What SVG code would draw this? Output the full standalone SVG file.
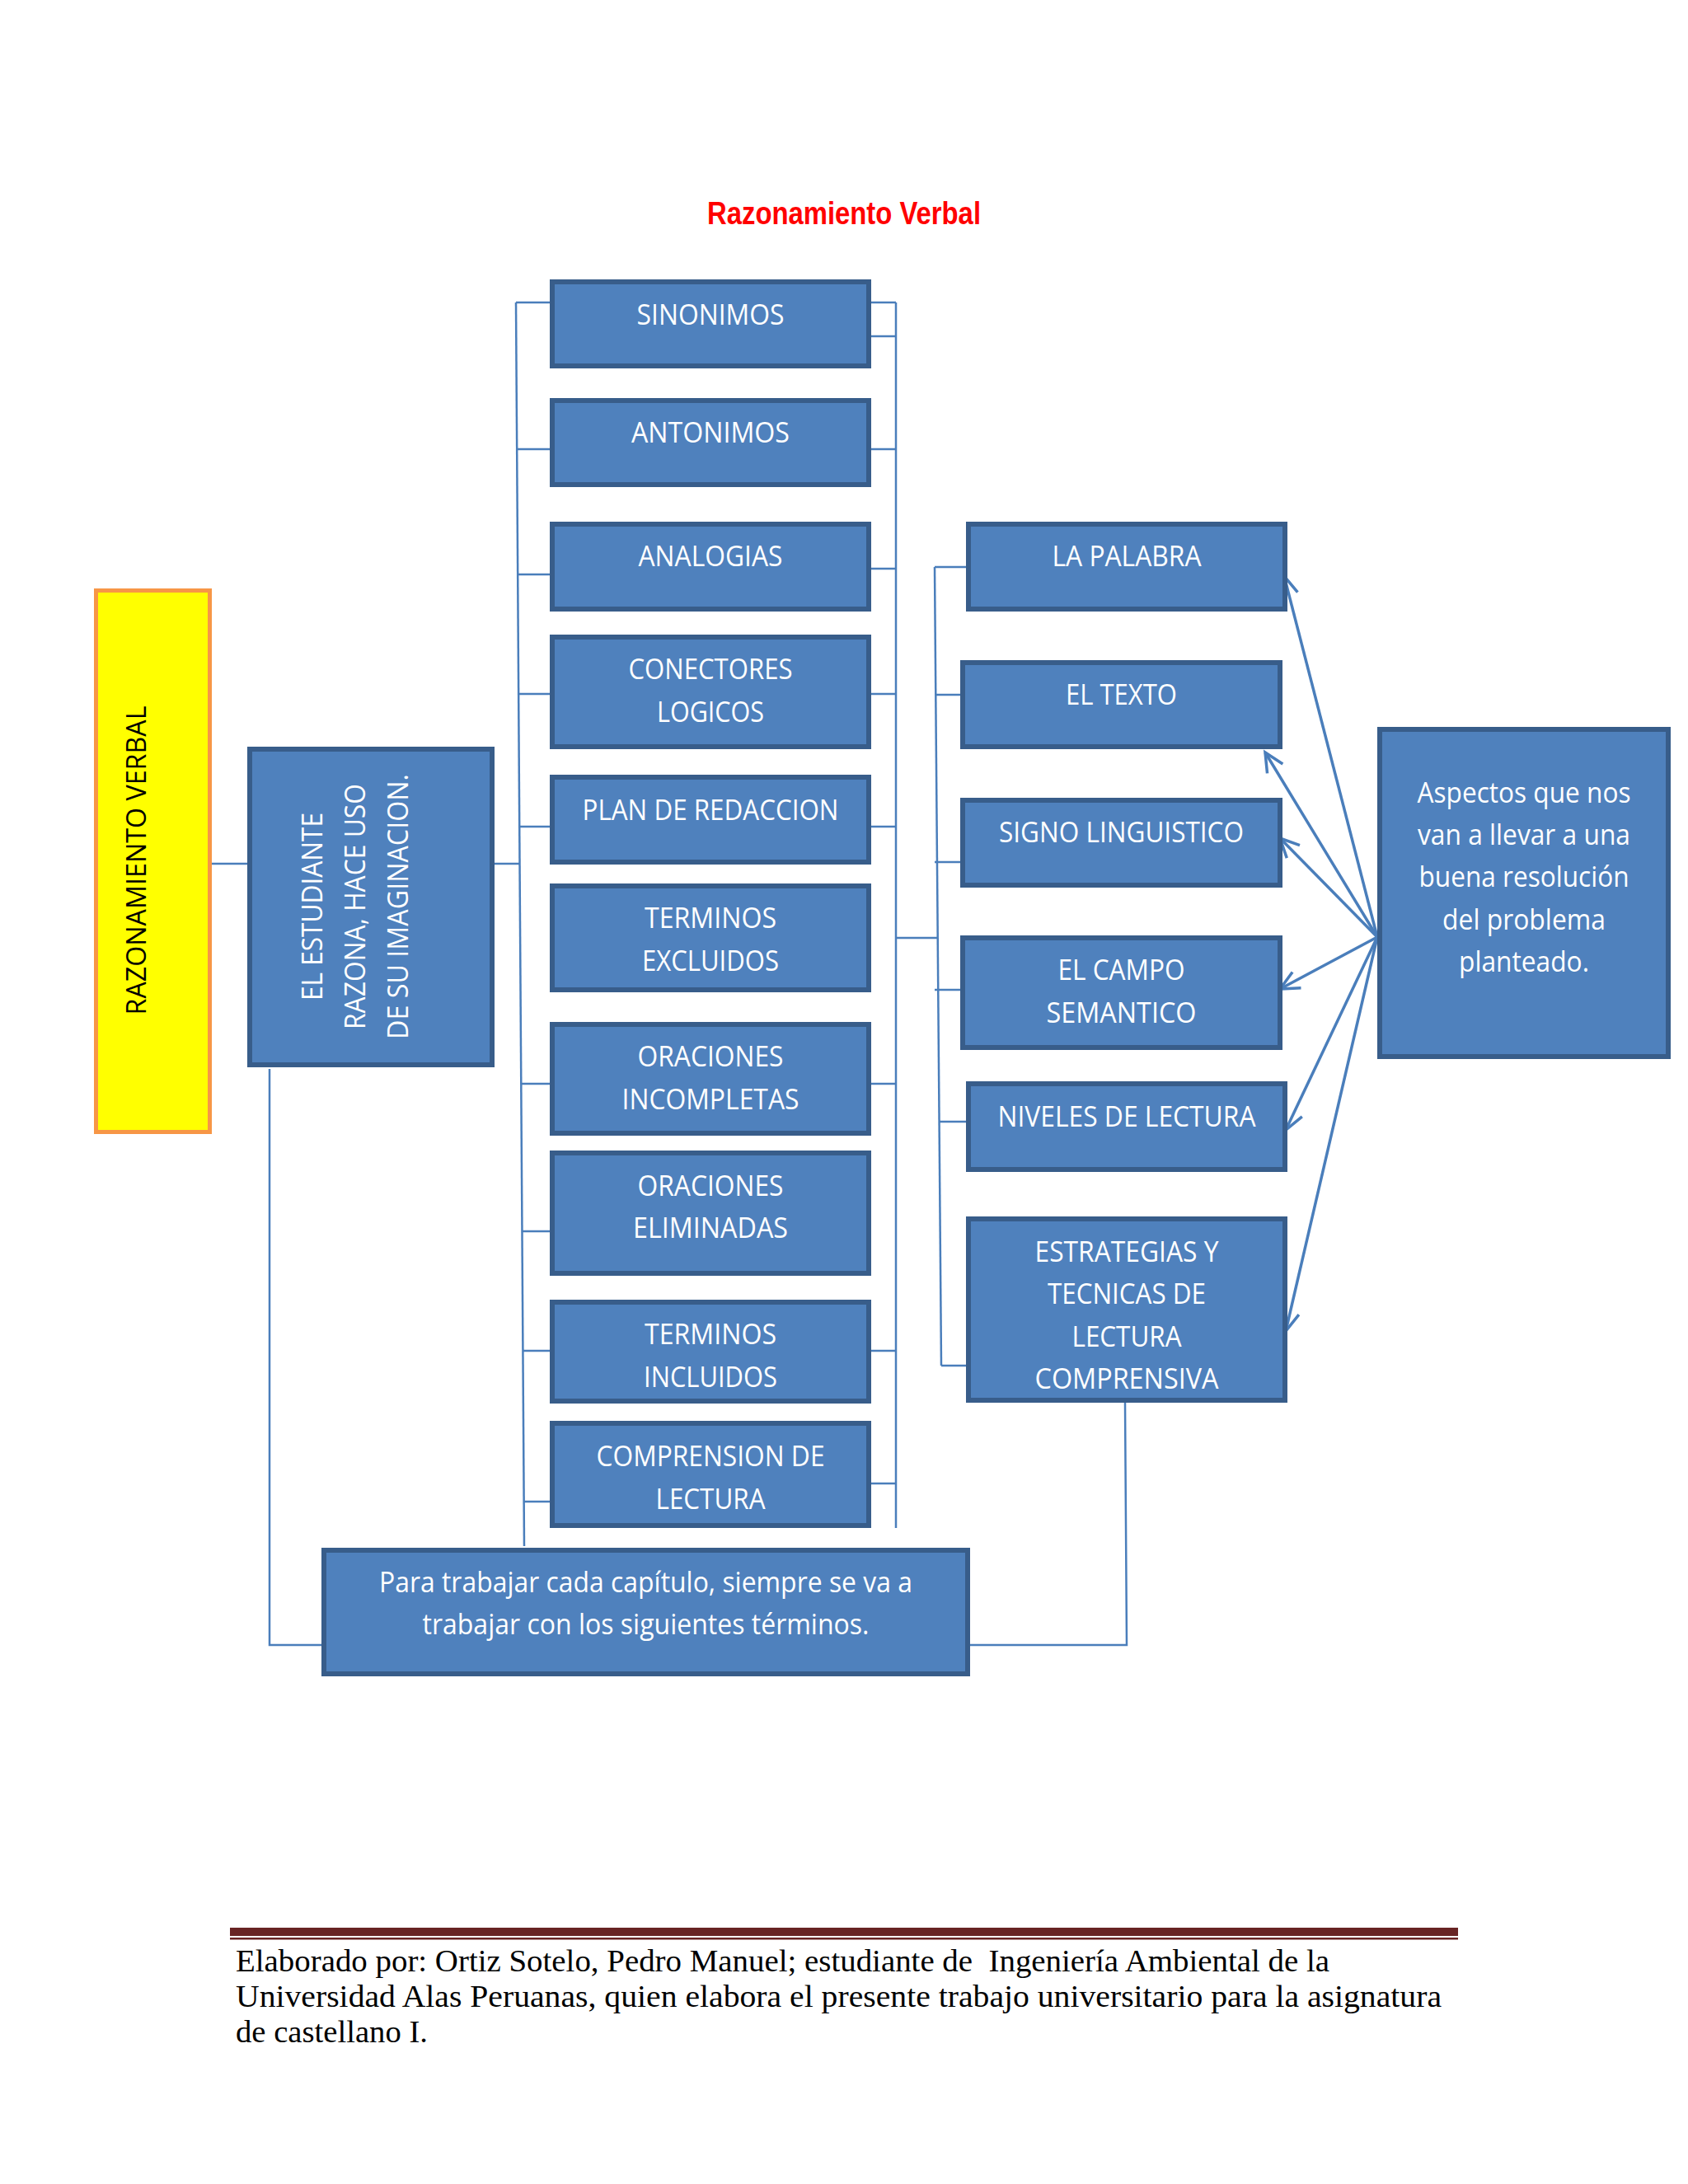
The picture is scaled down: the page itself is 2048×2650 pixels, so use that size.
<svg xmlns="http://www.w3.org/2000/svg" width="2048" height="2650" viewBox="0 0 2048 2650">
<style>
.box{fill:#4F81BD;stroke:#385D8A;stroke-width:6}
.t{font-family:"Open Sans","Liberation Sans",sans-serif;font-size:34px;fill:#FFFFFF;text-anchor:middle}
.c{fill:none;stroke:#4A7EBB;stroke-width:2.5}
.a{fill:none;stroke:#4A7EBB;stroke-width:3.5}
.foot{font-family:"Liberation Serif","DejaVu Serif",serif;font-size:38px;fill:#000000}
</style>
<defs>
<marker id="arr" markerUnits="userSpaceOnUse" markerWidth="30" markerHeight="30" refX="25" refY="13" orient="auto" viewBox="0 0 30 26">
<path d="M2,2 L25,13 L2,24" fill="none" stroke="#4A7EBB" stroke-width="3.5"/>
</marker>
</defs>
<rect width="2048" height="2650" fill="#FFFFFF"/>
<text x="1024" y="272" font-family="'Liberation Sans',Arial,sans-serif" font-size="38" font-weight="bold" fill="#FF0000" text-anchor="middle" textLength="332" lengthAdjust="spacingAndGlyphs">Razonamiento Verbal</text>

<g id="connectors">
<line class="c" x1="257" y1="1048" x2="301" y2="1048"/>
<polyline class="c" points="327,1297 327,1996 391,1996"/>
<line class="c" x1="600" y1="1048" x2="630.5" y2="1048"/>
<line class="c" x1="626" y1="367" x2="636" y2="1876"/>
<line class="c" x1="626" y1="367" x2="667" y2="367"/>
<line class="c" x1="627.2" y1="545" x2="667" y2="545"/>
<line class="c" x1="628.2" y1="697" x2="667" y2="697"/>
<line class="c" x1="629.1" y1="842" x2="667" y2="842"/>
<line class="c" x1="630.2" y1="1003" x2="667" y2="1003"/>
<line class="c" x1="632.3" y1="1315" x2="667" y2="1315"/>
<line class="c" x1="633.5" y1="1494" x2="667" y2="1494"/>
<line class="c" x1="634.4" y1="1639" x2="667" y2="1639"/>
<line class="c" x1="635.6" y1="1822" x2="667" y2="1822"/>
<line class="c" x1="1087" y1="367" x2="1087" y2="1854"/>
<line class="c" x1="1057" y1="367" x2="1087" y2="367"/>
<line class="c" x1="1057" y1="408" x2="1087" y2="408"/>
<line class="c" x1="1057" y1="545" x2="1087" y2="545"/>
<line class="c" x1="1057" y1="690" x2="1087" y2="690"/>
<line class="c" x1="1057" y1="842" x2="1087" y2="842"/>
<line class="c" x1="1057" y1="1003" x2="1087" y2="1003"/>
<line class="c" x1="1057" y1="1315" x2="1087" y2="1315"/>
<line class="c" x1="1057" y1="1639" x2="1087" y2="1639"/>
<line class="c" x1="1057" y1="1800" x2="1087" y2="1800"/>
<line class="c" x1="1087" y1="1138" x2="1138" y2="1138"/>
<line class="c" x1="1134" y1="688" x2="1142" y2="1657"/>
<line class="c" x1="1134" y1="688" x2="1172" y2="688"/>
<line class="c" x1="1135.3" y1="843" x2="1165" y2="843"/>
<line class="c" x1="1134" y1="1046" x2="1165" y2="1046"/>
<line class="c" x1="1134" y1="1201" x2="1165" y2="1201"/>
<line class="c" x1="1139.6" y1="1361" x2="1172" y2="1361"/>
<line class="c" x1="1142" y1="1657" x2="1172" y2="1657"/>
<polyline class="c" points="1365,1702 1367,1996 1177,1996"/>
<line class="a" x1="1671" y1="1137" x2="1558" y2="699" marker-end="url(#arr)"/>
<line class="a" x1="1671" y1="1137" x2="1535" y2="913" marker-end="url(#arr)"/>
<line class="a" x1="1671" y1="1137" x2="1553" y2="1017" marker-end="url(#arr)"/>
<line class="a" x1="1671" y1="1137" x2="1553" y2="1200" marker-end="url(#arr)"/>
<line class="a" x1="1671" y1="1137" x2="1560" y2="1371" marker-end="url(#arr)"/>
<line class="a" x1="1671" y1="1137" x2="1560" y2="1615" marker-end="url(#arr)"/>
</g>

<g id="razonamiento-verbal">
<rect x="116.5" y="716.5" width="138" height="657" fill="#FFFF00" stroke="#F79646" stroke-width="5"/>
<text transform="translate(177,1044) rotate(-90)" font-family="'Open Sans','Liberation Sans',sans-serif" font-size="32" fill="#000000" text-anchor="middle" textLength="375" lengthAdjust="spacingAndGlyphs">RAZONAMIENTO VERBAL</text>
</g>

<g id="estudiante">
<rect class="box" x="303" y="909" width="294" height="383"/>
<text class="t" transform="translate(391,1100) rotate(-90)" textLength="228" lengthAdjust="spacingAndGlyphs">EL ESTUDIANTE</text>
<text class="t" transform="translate(443,1100) rotate(-90)" textLength="298" lengthAdjust="spacingAndGlyphs">RAZONA, HACE USO</text>
<text class="t" transform="translate(495,1100) rotate(-90)" textLength="322" lengthAdjust="spacingAndGlyphs">DE SU IMAGINACION.</text>
</g>

<g id="sinonimos">
<rect class="box" x="670" y="342" width="384" height="102"/>
<text class="t" x="862" y="394" textLength="179" lengthAdjust="spacingAndGlyphs">SINONIMOS</text>
</g>
<g id="antonimos">
<rect class="box" x="670" y="486" width="384" height="102"/>
<text class="t" x="862" y="537" textLength="192" lengthAdjust="spacingAndGlyphs">ANTONIMOS</text>
</g>
<g id="analogias">
<rect class="box" x="670" y="636" width="384" height="103"/>
<text class="t" x="862" y="687" textLength="175" lengthAdjust="spacingAndGlyphs">ANALOGIAS</text>
</g>
<g id="conectores">
<rect class="box" x="670" y="773" width="384" height="133"/>
<text class="t" x="862" y="824" textLength="199" lengthAdjust="spacingAndGlyphs">CONECTORES</text>
<text class="t" x="862" y="876" textLength="130" lengthAdjust="spacingAndGlyphs">LOGICOS</text>
</g>
<g id="plan">
<rect class="box" x="670" y="943" width="384" height="103"/>
<text class="t" x="862" y="995" textLength="311" lengthAdjust="spacingAndGlyphs">PLAN DE REDACCION</text>
</g>
<g id="terminos-excluidos">
<rect class="box" x="670" y="1075" width="384" height="126"/>
<text class="t" x="862" y="1126" textLength="160" lengthAdjust="spacingAndGlyphs">TERMINOS</text>
<text class="t" x="862" y="1178" textLength="166" lengthAdjust="spacingAndGlyphs">EXCLUIDOS</text>
</g>
<g id="oraciones-incompletas">
<rect class="box" x="670" y="1243" width="384" height="132"/>
<text class="t" x="862" y="1294" textLength="177" lengthAdjust="spacingAndGlyphs">ORACIONES</text>
<text class="t" x="862" y="1346" textLength="215" lengthAdjust="spacingAndGlyphs">INCOMPLETAS</text>
</g>
<g id="oraciones-eliminadas">
<rect class="box" x="670" y="1399" width="384" height="146"/>
<text class="t" x="862" y="1451" textLength="177" lengthAdjust="spacingAndGlyphs">ORACIONES</text>
<text class="t" x="862" y="1502" textLength="188" lengthAdjust="spacingAndGlyphs">ELIMINADAS</text>
</g>
<g id="terminos-incluidos">
<rect class="box" x="670" y="1580" width="384" height="120"/>
<text class="t" x="862" y="1631" textLength="160" lengthAdjust="spacingAndGlyphs">TERMINOS</text>
<text class="t" x="862" y="1683" textLength="162" lengthAdjust="spacingAndGlyphs">INCLUIDOS</text>
</g>
<g id="comprension">
<rect class="box" x="670" y="1727" width="384" height="124"/>
<text class="t" x="862" y="1779" textLength="277" lengthAdjust="spacingAndGlyphs">COMPRENSION DE</text>
<text class="t" x="862" y="1831" textLength="133" lengthAdjust="spacingAndGlyphs">LECTURA</text>
</g>

<g id="la-palabra">
<rect class="box" x="1175" y="636" width="384" height="103"/>
<text class="t" x="1367" y="687" textLength="181" lengthAdjust="spacingAndGlyphs">LA PALABRA</text>
</g>
<g id="el-texto">
<rect class="box" x="1168" y="804" width="385" height="102"/>
<text class="t" x="1360.5" y="855" textLength="135" lengthAdjust="spacingAndGlyphs">EL TEXTO</text>
</g>
<g id="signo">
<rect class="box" x="1168" y="971" width="385" height="103"/>
<text class="t" x="1360.5" y="1022" textLength="297" lengthAdjust="spacingAndGlyphs">SIGNO LINGUISTICO</text>
</g>
<g id="campo">
<rect class="box" x="1168" y="1138" width="385" height="133"/>
<text class="t" x="1360.5" y="1189" textLength="154" lengthAdjust="spacingAndGlyphs">EL CAMPO</text>
<text class="t" x="1360.5" y="1241" textLength="182" lengthAdjust="spacingAndGlyphs">SEMANTICO</text>
</g>
<g id="niveles">
<rect class="box" x="1175" y="1315" width="384" height="104"/>
<text class="t" x="1367" y="1367" textLength="313" lengthAdjust="spacingAndGlyphs">NIVELES DE LECTURA</text>
</g>
<g id="estrategias">
<rect class="box" x="1175" y="1479" width="384" height="220"/>
<text class="t" x="1367" y="1531" textLength="223" lengthAdjust="spacingAndGlyphs">ESTRATEGIAS Y</text>
<text class="t" x="1367" y="1582" textLength="192" lengthAdjust="spacingAndGlyphs">TECNICAS DE</text>
<text class="t" x="1367" y="1634" textLength="133" lengthAdjust="spacingAndGlyphs">LECTURA</text>
<text class="t" x="1367" y="1685" textLength="223" lengthAdjust="spacingAndGlyphs">COMPRENSIVA</text>
</g>

<g id="aspectos">
<rect class="box" x="1674" y="885" width="350" height="397"/>
<text class="t" x="1849" y="974" textLength="259" lengthAdjust="spacingAndGlyphs">Aspectos que nos</text>
<text class="t" x="1849" y="1025" textLength="258" lengthAdjust="spacingAndGlyphs">van a llevar a una</text>
<text class="t" x="1849" y="1076" textLength="255" lengthAdjust="spacingAndGlyphs">buena resolución</text>
<text class="t" x="1849" y="1128" textLength="198" lengthAdjust="spacingAndGlyphs">del problema</text>
<text class="t" x="1849" y="1179" textLength="158" lengthAdjust="spacingAndGlyphs">planteado.</text>
</g>

<g id="para-trabajar">
<rect class="box" x="393" y="1881" width="781" height="150"/>
<text class="t" x="783.5" y="1932" textLength="647" lengthAdjust="spacingAndGlyphs">Para trabajar cada capítulo, siempre se va a</text>
<text class="t" x="783.5" y="1983" textLength="542" lengthAdjust="spacingAndGlyphs">trabajar con los siguientes términos.</text>
</g>

<g id="footer">
<rect x="279" y="2339" width="1490" height="10" fill="#682424"/>
<rect x="279" y="2351" width="1490" height="2.5" fill="#682424"/>
<text class="foot" x="286" y="2392" textLength="1327" lengthAdjust="spacingAndGlyphs" xml:space="preserve">Elaborado por: Ortiz Sotelo, Pedro Manuel; estudiante de  Ingeniería Ambiental de la</text>
<text class="foot" x="286" y="2435" textLength="1463" lengthAdjust="spacingAndGlyphs">Universidad Alas Peruanas, quien elabora el presente trabajo universitario para la asignatura</text>
<text class="foot" x="286" y="2478" textLength="233" lengthAdjust="spacingAndGlyphs">de castellano I.</text>
</g>
</svg>
